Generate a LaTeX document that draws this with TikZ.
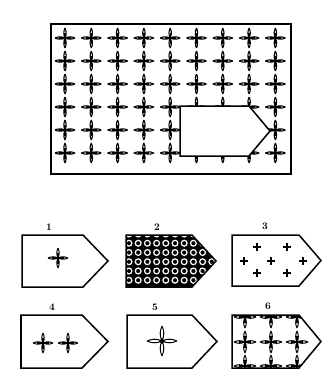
\documentclass[tikz,border=0pt]{standalone}
\usetikzlibrary{positioning}
\tikzset{
  outline/.style={line width=1.5pt,line join=miter},
  tagpath/.style n args={5}{insert path={(#1,#2) -- (#3,#2) -- (#4,{(#2+#5)/2}) -- (#3,#5) -- (#1,#5) -- cycle}},
  numlabel/.style={font=\normalsize\bfseries,inner sep=0pt},
  pics/fourstar/.style={code={
    \foreach \a in {0,90,180,270}
      \draw[rotate=\a,miter limit=2] (0,0) to[bend left=24] (0,#1) to[bend left=24] (0,0);
    \fill (0,-0.2*#1) -- (0.2*#1,0) -- (0,0.2*#1) -- (-0.2*#1,0) -- cycle;
  }},
  pics/boldstar/.style={code={
    \pic {fourstar=#1};
    \draw[line width=1.4pt] (-0.55*#1,0) -- (0.55*#1,0) (0,-0.55*#1) -- (0,0.55*#1);
  }},
  pics/plusmark/.style={code={
    \draw[line width=1.3pt] (-3.6,0) -- (3.6,0) (0,-3.6) -- (0,3.6);
  }},
}

\begin{document}
\begin{tikzpicture}[x=1pt,y=-1pt]
\useasboundingbox (0,0) rectangle (323,376);

% sheet with the star grid
\foreach \i in {0,...,8}
  \foreach \j in {0,...,5}
    \pic[line width=1.1pt] at ({65+26.3*\i},{38+23*\j}) {boldstar=10};
\draw[outline] (51,24) rectangle (291,174);
\draw[outline,fill=white,tagpath={180}{106}{249}{270}{156}];

% the six tags
\node[numlabel] (lab1) at (49,227) {1};
\node[numlabel] (lab2) at (157,227) {2};
\node[numlabel] (lab3) at (265,226) {3};
\node[numlabel] (lab4) at (52,307) {4};
\node[numlabel] (lab5) at (155,307) {5};
\node[numlabel] (lab6) at (268,306) {6};

% 1
\draw[outline,tagpath={22}{235}{83}{108}{287}];
\pic[line width=1pt] at (58,258) {boldstar=10};

% 2
\begin{scope}
  \clip[tagpath={126}{235}{192}{216}{287}];
  \fill (120,228) rectangle (222,292);
  \foreach \i in {0,...,9}
    \foreach \j in {0,...,5}
      \draw[white,line width=1.2pt] ({129+9.2*\i},{234+9.25*\j}) circle (2.9);
\end{scope}
\draw[outline,tagpath={126}{235}{192}{216}{287}];

% 3
\draw[outline,tagpath={232}{235}{299}{321}{286}];
\foreach \p in {(257,247),(287,247),(244,261),(271,261),(303,261),(257,273),(287,273)}
  \pic at \p {plusmark};

% 4
\draw[outline,tagpath={21}{315}{82}{108}{368}];
\pic[line width=1pt] at (43,343) {boldstar=10};
\pic[line width=1pt] at (68,343) {boldstar=10};

% 5
\draw[outline,tagpath={127}{315}{192}{217}{368}];
\pic[line width=1pt] at (162,341) {fourstar=15};

% 6
\begin{scope}
  \clip[tagpath={232}{315}{299}{321}{368}];
  \foreach \i in {0,1,2}
    \foreach \y in {317,342,366}
      \pic[line width=1pt] at ({245+26*\i},\y) {boldstar=11};
\end{scope}
\draw[outline,tagpath={232}{315}{299}{321}{368}];
\end{tikzpicture}
\end{document}
